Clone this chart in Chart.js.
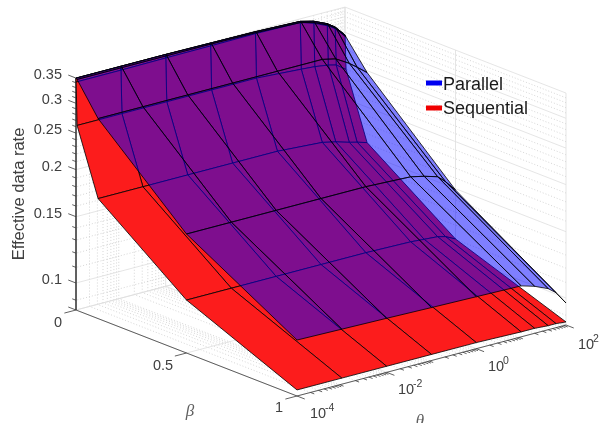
<!DOCTYPE html>
<html>
<head>
<meta charset="utf-8">
<style>
  html, body { margin: 0; padding: 0; background: #fff; }
  canvas { display: block; }
</style>
<script src="https://cdn.jsdelivr.net/npm/chart.js@4/dist/chart.umd.min.js"></script>
</head>
<body>
<canvas id="surfaceChart" width="606" height="423"></canvas>
<script>
// grid of both surfaces
const thetaVals = [1e-4, 1e-3, 1e-2, 1e-1, 1, 10, 20, 40, 60, 100];
const betaVals = [0, 0.0005, 0.005, 0.1, 0.5, 1];

// Sequential, one row per beta
const seqBeta0 = [0.35, 0.35, 0.35, 0.349, 0.348, 0.3448, 0.3376, 0.3254, 0.3148, 0.2951];
const seqBeta0005 = [0.3417, 0.3417, 0.3425, 0.343, 0.3438, 0.3425, 0.3335, 0.3215, 0.3118, 0.2933];
const seqBeta005 = [0.2627, 0.2627, 0.2627, 0.2627, 0.2627, 0.258, 0.2564, 0.2533, 0.2502, 0.2397];
const seqBeta01 = [0.1766, 0.1766, 0.1766, 0.1766, 0.1766, 0.1734, 0.1702, 0.1661, 0.1641, 0.1611];
const seqBeta05 = [0.1172, 0.1172, 0.1172, 0.1172, 0.1172, 0.1165, 0.1158, 0.1151, 0.1137, 0.1103];
const seqBeta1 = [0.088, 0.088, 0.088, 0.088, 0.088, 0.0874, 0.0874, 0.0869, 0.0869, 0.0864];

// Parallel, one row per beta
const parBeta0 = [0.35, 0.35, 0.35, 0.349, 0.348, 0.3448, 0.3376, 0.3254, 0.3148, 0.2951];
const parBeta0005 = [0.35, 0.35, 0.35, 0.349, 0.348, 0.3448, 0.3376, 0.3254, 0.3148, 0.2951];
const parBeta005 = [0.348, 0.348, 0.348, 0.348, 0.347, 0.3435, 0.3355, 0.3235, 0.313, 0.292];
const parBeta01 = [0.288, 0.288, 0.288, 0.288, 0.288, 0.288, 0.2827, 0.2692, 0.2595, 0.2472];
const parBeta05 = [0.1755, 0.1755, 0.1755, 0.1755, 0.1755, 0.1734, 0.1702, 0.1661, 0.1591, 0.1488];
const parBeta1 = [0.1194, 0.1187, 0.118, 0.1172, 0.1165, 0.1158, 0.113, 0.109, 0.105, 0.097];

const seqRows = [seqBeta0, seqBeta0005, seqBeta005, seqBeta01, seqBeta05, seqBeta1];
const parRows = [parBeta0, parBeta0005, parBeta005, parBeta01, parBeta05, parBeta1];

// axes
const zMin = 0.0848;
const zMax = 0.35;
const zMajor = [0.0848, 0.1, 0.15, 0.2, 0.25, 0.3, 0.35];
const zMajorLabels = ["0", "0.1", "0.15", "0.2", "0.25", "0.3", "0.35"];
const zMinor = [0.09, 0.11, 0.12, 0.13, 0.14, 0.16, 0.17, 0.18, 0.19, 0.21, 0.22, 0.23, 0.24, 0.26, 0.27, 0.28, 0.29, 0.31, 0.32, 0.33, 0.34];
const thetaMajor = [1e-4, 1e-2, 1, 100];
const thetaMinorMult = [2, 3, 4, 5, 6, 7, 8, 9];
const thetaDecades = [1e-4, 1e-3, 1e-2, 1e-1, 1, 10];
const betaMajor = [0, 0.5, 1];

// view of the box: where a unit of each axis lands on the page
const view = { x0: 76, y0: 310, ux: 269, uy: -71, bx: 221, by: 86, zScale: 163.6 };

function project(theta, beta, z) {
  const u = (Math.log10(theta) + 4) / 6;
  return {
    x: view.x0 + view.ux * u + view.bx * beta,
    y: view.y0 + view.uy * u + view.by * beta - view.zScale * Math.log(z / zMin),
  };
}

const gap = { x: NaN, y: NaN };

function lineSet(data, color, width, dash) {
  return {
    type: "scatter",
    data: data,
    showLine: true,
    fill: false,
    pointRadius: 0,
    borderColor: color,
    borderWidth: width,
    borderDash: dash || [],
    tension: 0,
  };
}

function quadSet(corners, fillColor, edgeColor) {
  return {
    type: "scatter",
    data: corners.concat([corners[0]]),
    showLine: true,
    fill: "shape",
    backgroundColor: fillColor,
    borderColor: edgeColor,
    borderWidth: 0.8,
    pointRadius: 0,
    tension: 0,
  };
}

function surfaceSets(rows, fillColor, edgeColor) {
  const sets = [];
  // back to front, so nearer patches are painted later
  for (let j = thetaVals.length - 2; j >= 0; j--) {
    for (let i = 0; i < betaVals.length - 1; i++) {
      sets.push(
        quadSet(
          [
            project(thetaVals[j], betaVals[i], rows[i][j]),
            project(thetaVals[j + 1], betaVals[i], rows[i][j + 1]),
            project(thetaVals[j + 1], betaVals[i + 1], rows[i + 1][j + 1]),
            project(thetaVals[j], betaVals[i + 1], rows[i + 1][j]),
          ],
          fillColor,
          edgeColor
        )
      );
    }
  }
  return sets;
}

function zGridPath(z) {
  return [project(100, 1, z), project(100, 0, z), project(1e-4, 0, z), gap];
}

function thetaGridPath(theta) {
  return [project(theta, 1, zMin), project(theta, 0, zMin), project(theta, 0, zMax), gap];
}

function betaGridPath(beta) {
  return [project(1e-4, beta, zMin), project(100, beta, zMin), project(100, beta, zMax), gap];
}

function thetaMinorVals() {
  const vals = [];
  thetaDecades.forEach((d) => thetaMinorMult.forEach((m) => vals.push(d * m)));
  return vals;
}

function gridSets() {
  const major = [];
  const minor = [];
  zMajor.forEach((z) => major.push(...zGridPath(z)));
  thetaMajor.forEach((t) => major.push(...thetaGridPath(t)));
  betaMajor.forEach((b) => major.push(...betaGridPath(b)));
  zMinor.forEach((z) => minor.push(...zGridPath(z)));
  thetaMinorVals().forEach((t) => minor.push(...thetaGridPath(t)));
  return [lineSet(minor, "#c4c4c4", 0.7, [1, 2]), lineSet(major, "#dedede", 0.8)];
}

function axisSets() {
  const pts = [
    project(1e-4, 0, zMax), project(1e-4, 0, zMin), project(1e-4, 1, zMin), project(100, 1, zMin), gap,
  ];
  // small tick = half the big one, each along the direction MATLAB uses on that axis
  zMajor.forEach((z) => pts.push(project(1e-4, 0, z), project(1e-4, -0.035, z), gap));
  zMinor.forEach((z) => pts.push(project(1e-4, 0, z), project(1e-4, -0.017, z), gap));
  betaMajor.forEach((b) => pts.push(project(1e-4, b, zMin), project(5.5e-5, b, zMin), gap));
  thetaMajor.forEach((t) => pts.push(project(t, 1, zMin), project(t, 1.035, zMin), gap));
  thetaMinorVals().forEach((t) => pts.push(project(t, 1, zMin), project(t, 1.017, zMin), gap));
  return [lineSet(pts, "#3a3a3a", 0.8)];
}

const textPlugin = {
  id: "textPlugin",
  afterDraw(chart) {
    const ctx = chart.ctx;
    const sx = chart.scales.x;
    const sy = chart.scales.y;
    const sans = '"Liberation Sans", Arial, sans-serif';
    ctx.save();
    ctx.textBaseline = "middle";
    ctx.fillStyle = "#404040";

    // z ticks
    ctx.font = "14.5px " + sans;
    ctx.textAlign = "right";
    zMajor.forEach((z, i) => {
      const p = project(1e-4, 0, z);
      const dy = i === 0 ? 13 : -3;
      ctx.fillText(zMajorLabels[i], sx.getPixelForValue(p.x) - 14, sy.getPixelForValue(p.y) + dy);
    });

    // beta ticks
    ctx.textAlign = "center";
    ctx.fillText("0.5", sx.getPixelForValue(163), sy.getPixelForValue(366));
    ctx.fillText("1", sx.getPixelForValue(279), sy.getPixelForValue(408));

    // theta ticks
    ctx.textAlign = "left";
    [["-4", 310, 414], ["-2", 398, 390], ["0", 488, 367], ["2", 578, 345]].forEach((t) => {
      ctx.font = "14.5px " + sans;
      ctx.fillText("10", sx.getPixelForValue(t[1]), sy.getPixelForValue(t[2]));
      ctx.font = "10.5px " + sans;
      ctx.fillText(t[0], sx.getPixelForValue(t[1] + 15), sy.getPixelForValue(t[2] - 6));
    });

    // axis titles
    ctx.textAlign = "center";
    ctx.fillStyle = "#606060";
    ctx.font = 'italic 17px "Liberation Serif", serif';
    ctx.fillText("\u03B2", sx.getPixelForValue(190), sy.getPixelForValue(412));
    ctx.fillText("\u03B8", sx.getPixelForValue(420), sy.getPixelForValue(422));

    ctx.save();
    ctx.fillStyle = "#404040";
    ctx.translate(sx.getPixelForValue(19), sy.getPixelForValue(194));
    ctx.rotate(-Math.PI / 2);
    ctx.font = "16.5px " + sans;
    ctx.fillText("Effective data rate", 0, 0);
    ctx.restore();

    // legend
    ctx.textAlign = "left";
    ctx.font = "18px " + sans;
    ctx.fillStyle = "#1a1a1a";
    ctx.fillText("Parallel", sx.getPixelForValue(443), sy.getPixelForValue(85));
    ctx.fillText("Sequential", sx.getPixelForValue(443), sy.getPixelForValue(109));
    ctx.fillStyle = "#0000f0";
    ctx.fillRect(sx.getPixelForValue(426), sy.getPixelForValue(80.5), 16, 5);
    ctx.fillStyle = "#f00000";
    ctx.fillRect(sx.getPixelForValue(426), sy.getPixelForValue(105.5), 16, 5);
    ctx.restore();
  },
};

// painted in this order; Chart.js paints the first dataset last, hence the reverse()
const paintOrder = [
  ...gridSets(),
  ...axisSets(),
  ...surfaceSets(seqRows, "rgb(252,28,28)", "#000"),
  ...surfaceSets(parRows, "rgba(0,0,255,0.5)", "#000"),
];

new Chart(document.getElementById("surfaceChart").getContext("2d"), {
  type: "scatter",
  data: { datasets: paintOrder.reverse() },
  options: {
    responsive: false,
    animation: false,
    layout: { padding: 0 },
    plugins: {
      legend: { display: false },
      tooltip: { enabled: false },
    },
    scales: {
      x: { type: "linear", min: 0, max: 606, display: false },
      y: { type: "linear", min: 0, max: 423, reverse: true, display: false },
    },
  },
  plugins: [textPlugin],
});
</script>
</body>
</html>
